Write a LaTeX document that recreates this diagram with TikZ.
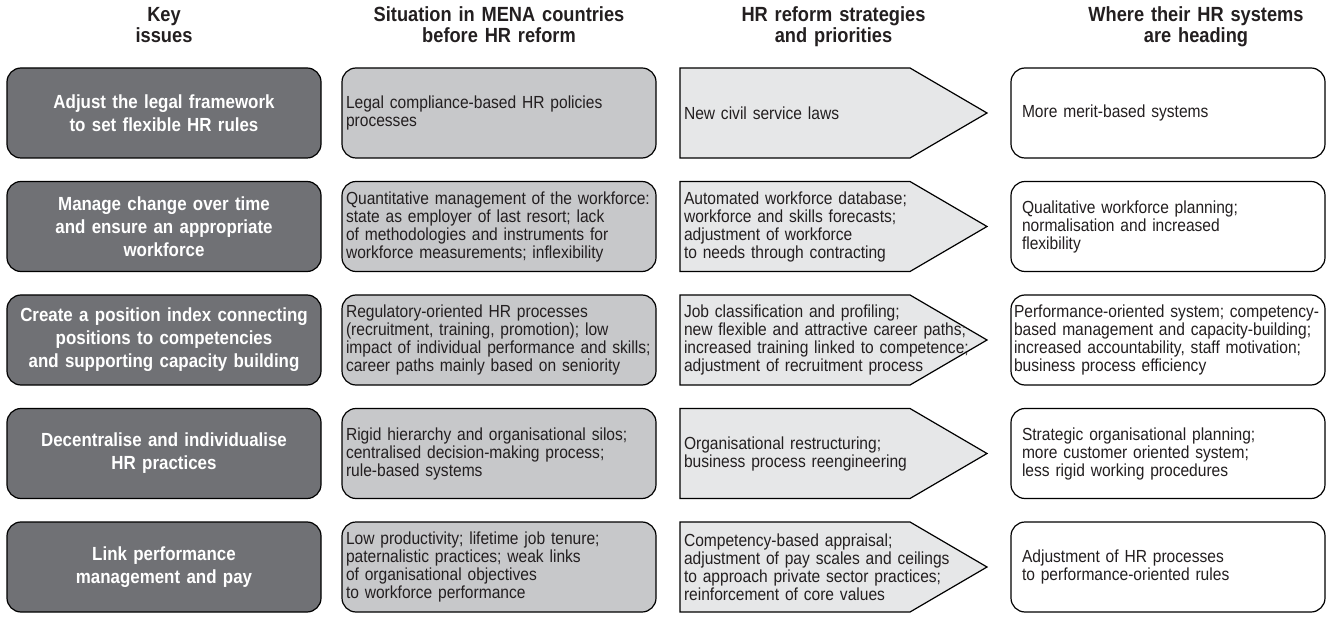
\documentclass[tikz,border=0pt]{standalone}
\usepackage{fontspec}
\setmainfont{Liberation Sans}[FakeStretch=0.89]
\usetikzlibrary{positioning}
\usetikzlibrary{backgrounds}
\definecolor{keygray}{RGB}{112,113,117}
\definecolor{oldgray}{RGB}{199,200,202}
\definecolor{reformgray}{RGB}{230,231,232}
\definecolor{inkblack}{RGB}{35,31,32}
\tikzstyle{heading} = [font=\bfseries\fontsize{20.5}{20.5}\selectfont, text=inkblack, align=center, text width=330pt, inner sep=0pt, text depth=5pt]
\tikzstyle{keyissue} = [rectangle, rounded corners=14pt, draw=black, line width=1.2pt, fill=keygray, text=white, font=\bfseries\fontsize{19}{23}\selectfont, align=center, text width=306pt, inner xsep=4pt, minimum height=90pt, outer sep=0pt]
\tikzstyle{before} = [rectangle, rounded corners=14pt, draw=black, line width=1.2pt, fill=oldgray, text=inkblack, font=\fontsize{17.5}{18}\selectfont, align=left, text width=306pt, inner xsep=4pt, minimum height=90pt, outer sep=0pt]
\tikzstyle{strategy} = [rectangle, text=inkblack, font=\fontsize{17.5}{18}\selectfont, align=left, text width=299pt, inner xsep=4pt, minimum height=90pt, outer sep=0pt]
\tikzstyle{pointer} = [draw=black, line width=1.2pt, fill=reformgray]
\tikzstyle{heading2} = [rectangle, rounded corners=14pt, draw=black, line width=1.2pt, fill=white, text=inkblack, font=\fontsize{17.5}{18}\selectfont, align=left, text width=292pt, inner xsep=11pt, minimum height=90pt, outer sep=0pt]

\begin{document}
\begin{tikzpicture}
    \useasboundingbox (0,0) rectangle (1330pt,-617pt);

    % Row 1
    \node (key1) [keyissue] at (164pt,-113pt) {Adjust the legal framework\\to set flexible HR rules};
    \node (old1) [before, right=21pt of key1] {Legal compliance-based HR policies\\processes};
    \node (new1) [strategy, right=24pt of old1] {New civil service laws};
    \node (goal1) [heading2, right=24pt of new1] {More merit-based systems};

    % Row 2
    \node (key2) [keyissue, below=23.5pt of key1] {Manage change over time\\and ensure an appropriate\\workforce};
    \node (old2) [before, right=21pt of key2] {Quantitative management of the workforce:\\state as employer of last resort; lack\\of methodologies and instruments for\\workforce measurements; inflexibility};
    \node (new2) [strategy, right=24pt of old2] {Automated workforce database;\\workforce and skills forecasts;\\adjustment of workforce\\to needs through contracting};
    \node (goal2) [heading2, right=24pt of new2] {Qualitative workforce planning;\\normalisation and increased\\flexibility};

    % Row 3
    \node (key3) [keyissue, below=23.5pt of key2] {Create a position index connecting\\positions to competencies\\and supporting capacity building};
    \node (old3) [before, right=21pt of key3] {Regulatory-oriented HR processes\\(recruitment, training, promotion); low\\impact of individual performance and skills;\\career paths mainly based on seniority};
    \node (new3) [strategy, right=24pt of old3] {Job classification and profiling;\\new flexible and attractive career paths;\\increased training linked to competence;\\adjustment of recruitment process};
    \node (goal3) [heading2, right=24pt of new3, inner xsep=3pt, text width=308pt] {Performance-oriented system; competency-\\based management and capacity-building;\\increased accountability, staff motivation;\\business process efficiency};

    % Row 4
    \node (key4) [keyissue, below=23.5pt of key3] {Decentralise and individualise\\HR practices};
    \node (old4) [before, right=21pt of key4] {Rigid hierarchy and organisational silos;\\centralised decision-making process;\\rule-based systems};
    \node (new4) [strategy, right=24pt of old4] {Organisational restructuring;\\business process reengineering};
    \node (goal4) [heading2, right=24pt of new4] {Strategic organisational planning;\\more customer oriented system;\\less rigid working procedures};

    % Row 5
    \node (key5) [keyissue, below=23.5pt of key4] {Link performance\\management and pay};
    \node (old5) [before, right=21pt of key5] {Low productivity; lifetime job tenure;\\paternalistic practices; weak links\\of organisational objectives\\to workforce performance};
    \node (new5) [strategy, right=24pt of old5] {Competency-based appraisal;\\adjustment of pay scales and ceilings\\to approach private sector practices;\\reinforcement of core values};
    \node (goal5) [heading2, right=24pt of new5] {Adjustment of HR processes\\to performance-oriented rules};

    % Arrow shapes behind the strategy texts
    \begin{scope}[on background layer]
    \draw [pointer] (new1.north west) -- ([xshift=-77pt]new1.north east) -- (new1.east) -- ([xshift=-77pt]new1.south east) -- (new1.south west) -- cycle;
    \draw [pointer] (new2.north west) -- ([xshift=-77pt]new2.north east) -- (new2.east) -- ([xshift=-77pt]new2.south east) -- (new2.south west) -- cycle;
    \draw [pointer] (new3.north west) -- ([xshift=-77pt]new3.north east) -- (new3.east) -- ([xshift=-77pt]new3.south east) -- (new3.south west) -- cycle;
    \draw [pointer] (new4.north west) -- ([xshift=-77pt]new4.north east) -- (new4.east) -- ([xshift=-77pt]new4.south east) -- (new4.south west) -- cycle;
    \draw [pointer] (new5.north west) -- ([xshift=-77pt]new5.north east) -- (new5.east) -- ([xshift=-77pt]new5.south east) -- (new5.south west) -- cycle;
    \end{scope}

    % Column headings
    \node (headkey) [heading, above=41pt of key1] {Key\\issues};
    \node (headold) [heading, above=41pt of old1] {Situation in MENA countries\\before HR reform};
    \node (headnew) [heading, above=41pt of new1] {HR reform strategies\\and priorities};
    \node (headgoal) [heading, above=41pt of goal1, xshift=28pt] {Where their HR systems\\are heading};

\end{tikzpicture}
\end{document}
